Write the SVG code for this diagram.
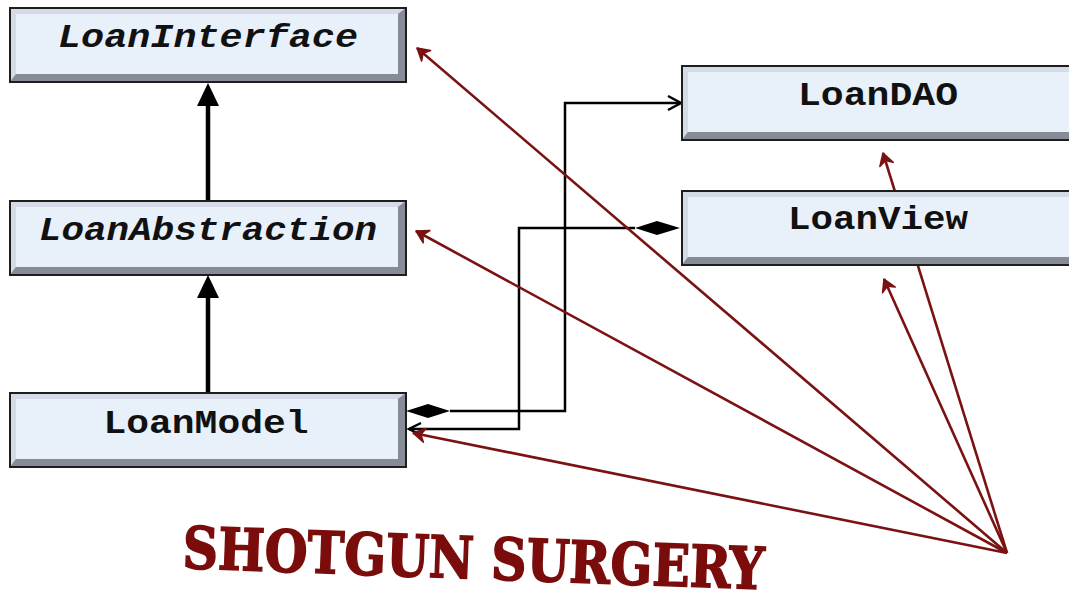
<svg xmlns="http://www.w3.org/2000/svg" xmlns:xlink="http://www.w3.org/1999/xlink" width="1069" height="605" viewBox="0 0 1069 605">
<style>
.lbl{font-family:"Liberation Mono","Courier New",monospace;font-weight:bold;font-size:34px;fill:#111;text-anchor:middle}
.it{font-style:italic}
.blk{fill:none;stroke:#000;stroke-width:2.5}
.inh{fill:none;stroke:#000;stroke-width:4.5}
.red{fill:none;stroke:#7b1212;stroke-width:2.6}
.title{font-family:"DejaVu Serif","Liberation Serif",serif;font-weight:bold;font-size:58px;fill:#7a0c0c;stroke:#7a0c0c;stroke-width:1.6}
</style>
<defs>
<g id="box">
<rect x="0" y="0" width="396" height="74" fill="#a3aab3"/>
<polygon points="0,0 396,0 388,6 6,6 6,66 0,74" fill="#d3dbe5"/>
<polygon points="396,0 396,74 0,74 6,66 388,66 388,6" fill="#858c95"/>
<rect x="6" y="6" width="382" height="60" fill="#e8f0fa"/>
<rect x="0" y="0" width="396" height="74" fill="none" stroke="#1e1e1e" stroke-width="2"/>
</g>
<marker id="redHead" markerUnits="userSpaceOnUse" markerWidth="20" markerHeight="20" refX="0" refY="0" viewBox="-14 -10 20 20" orient="auto">
<path d="M-12,-7 L0,0 L-12,7 L-8,0 Z" fill="#7b1212" stroke="#7b1212" stroke-width="1.5" stroke-linejoin="round"/>
</marker>
</defs>
<rect width="1069" height="605" fill="#fff"/>
<g id="connectors">
<g id="inheritance">
<line class="inh" x1="208" y1="201" x2="208" y2="100"/>
<polygon points="208,83 197,106 219,106" fill="#000"/>
<line class="inh" x1="208" y1="393" x2="208" y2="292"/>
<polygon points="208,275 197,298 219,298" fill="#000"/>
</g>
<g id="composition">
<polygon points="406,411 428,404 450,411 428,418" fill="#000"/>
<path class="blk" d="M450,411 H565 V103 H680"/>
<path class="blk" d="M668,96 L681,103 L668,110"/>
<polygon points="680,228 657,221 635,228 657,235" fill="#000"/>
<path class="blk" d="M635,228 H519 V429 H409"/>
<path class="blk" d="M421,423 L409,429 L421,435"/>
</g>
<g id="shotgun">
<line class="red" x1="1007" y1="553" x2="417" y2="48" marker-end="url(#redHead)"/>
<line class="red" x1="1007" y1="553" x2="416" y2="231" marker-end="url(#redHead)"/>
<line class="red" x1="1007" y1="553" x2="413" y2="433" marker-end="url(#redHead)"/>
<line class="red" x1="1007" y1="553" x2="884" y2="279" marker-end="url(#redHead)"/>
<line class="red" x1="1007" y1="553" x2="883" y2="153" marker-end="url(#redHead)"/>
</g>
</g>
<g id="LoanInterface">
<use xlink:href="#box" x="10" y="8"/>
<text class="lbl it" x="208" y="47" textLength="300" lengthAdjust="spacingAndGlyphs">LoanInterface</text>
</g>
<g id="LoanAbstraction">
<use xlink:href="#box" x="10" y="201"/>
<text class="lbl it" x="208" y="240" textLength="338" lengthAdjust="spacingAndGlyphs">LoanAbstraction</text>
</g>
<g id="LoanModel">
<use xlink:href="#box" x="10" y="393"/>
<text class="lbl" x="206" y="433" textLength="205" lengthAdjust="spacingAndGlyphs">LoanModel</text>
</g>
<g id="LoanDAO">
<use xlink:href="#box" x="682" y="66"/>
<text class="lbl" x="878" y="105" textLength="160" lengthAdjust="spacingAndGlyphs">LoanDAO</text>
</g>
<g id="LoanView">
<use xlink:href="#box" x="682" y="191"/>
<text class="lbl" x="878" y="229" textLength="180" lengthAdjust="spacingAndGlyphs">LoanView</text>
</g>
<text class="title" x="182" y="568" transform="rotate(2.1 182 568)" textLength="582" lengthAdjust="spacingAndGlyphs">SHOTGUN SURGERY</text>
</svg>
